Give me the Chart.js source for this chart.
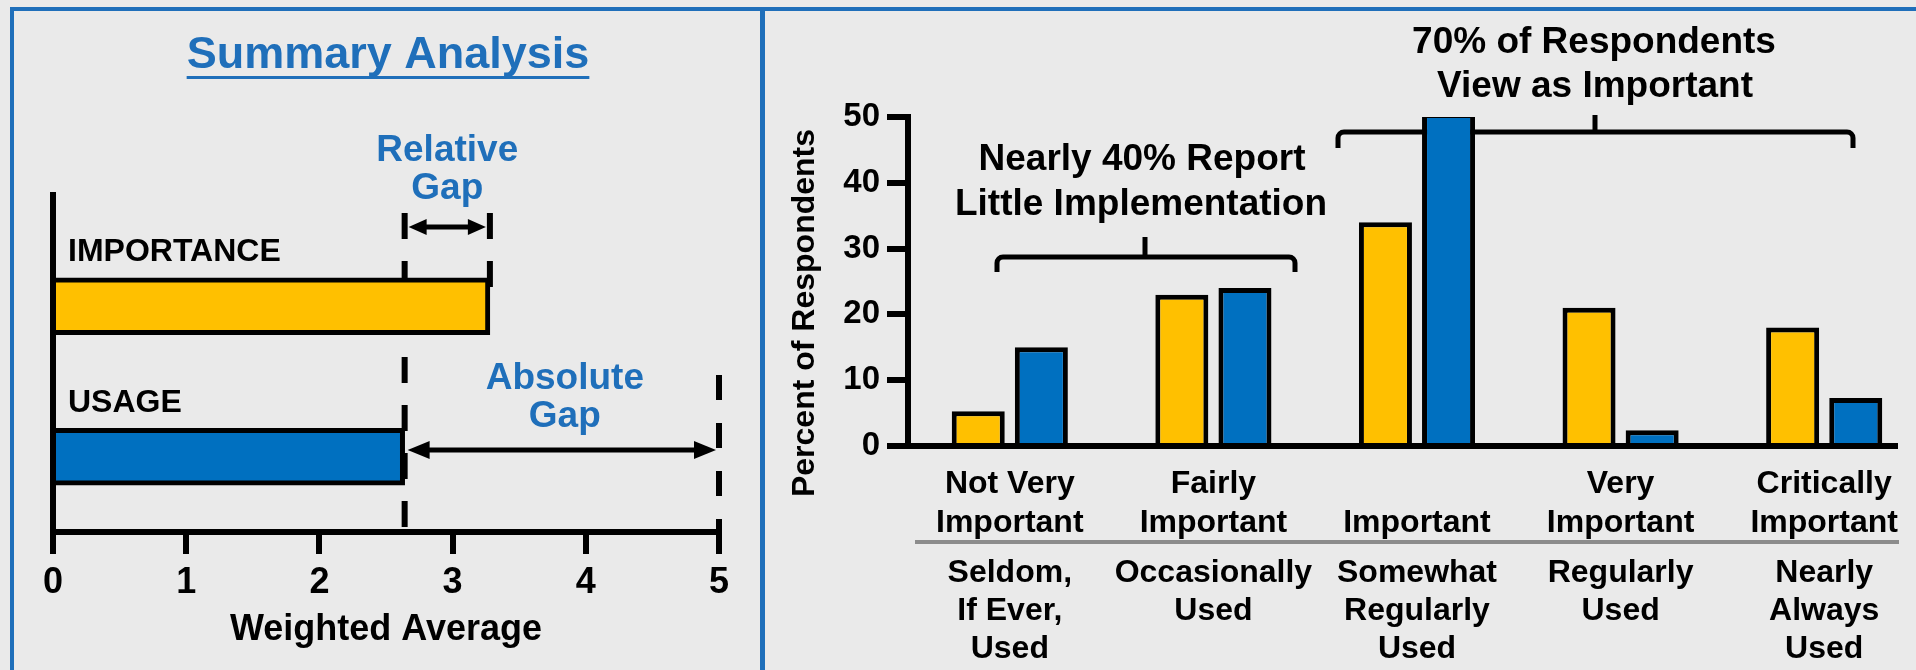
<!DOCTYPE html>
<html>
<head>
<meta charset="utf-8">
<script src="https://cdn.jsdelivr.net/npm/chart.js@4.4.0/dist/chart.umd.min.js"></script>
<style>
  html, body { margin: 0; padding: 0; width: 1916px; height: 670px; overflow: hidden; background: #eaeaea; }
  .frame { position: absolute; background: #1f6fba; }
  canvas { position: absolute; left: 0; top: 0; }
</style>
</head>
<body>
<div class="frame" style="left:10px; top:7px; width:1906px; height:4px"></div>
<div class="frame" style="left:10px; top:7px; width:4px; height:663px"></div>
<div class="frame" style="left:760px; top:7px; width:5px; height:663px"></div>
<canvas id="summaryChart" width="760" height="670"></canvas>
<canvas id="respChart" width="1930" height="670"></canvas>
<script>
// Summary (left) data
const summaryLabels = ['IMPORTANCE', 'USAGE'];
const summaryValues = [3.28, 2.64];
const summaryMax = 5;

// Respondents (right) data
const levelLabels = [['Not Very', 'Important'], ['Fairly', 'Important'], ['', 'Important'], ['Very', 'Important'], ['Critically', 'Important']];
const usageLabels = [['Seldom,', 'If Ever,', 'Used'], ['Occasionally', 'Used'], ['Somewhat', 'Regularly', 'Used'], ['Regularly', 'Used'], ['Nearly', 'Always', 'Used']];
const importanceValues = [5.3, 23, 34, 21, 18];
const usageValues = [15, 24, 50.6, 2.4, 7.3];

const YELLOW = '#FFC000';
const BLUE = '#0070C0';
const TEXT_BLUE = '#1f6fba';
const FONT = "'Liberation Sans', Arial, sans-serif";

Chart.defaults.font.family = FONT;
Chart.defaults.color = '#000';

function drawArrow(ctx, x1, x2, y, head, half) {
    ctx.save();
    ctx.setLineDash([]);
    ctx.strokeStyle = '#000';
    ctx.fillStyle = '#000';
    ctx.lineWidth = 5;
    ctx.beginPath();
    ctx.moveTo(x1 + head - 2, y);
    ctx.lineTo(x2 - head + 2, y);
    ctx.stroke();
    ctx.beginPath();
    ctx.moveTo(x1, y); ctx.lineTo(x1 + head, y - half); ctx.lineTo(x1 + head, y + half);
    ctx.closePath(); ctx.fill();
    ctx.beginPath();
    ctx.moveTo(x2, y); ctx.lineTo(x2 - head, y - half); ctx.lineTo(x2 - head, y + half);
    ctx.closePath(); ctx.fill();
    ctx.restore();
}

function drawBracket(ctx, x1, x2, y, hook, cx, notch) {
    ctx.save();
    ctx.strokeStyle = '#000';
    ctx.lineWidth = 5;
    ctx.lineJoin = 'round';
    ctx.beginPath();
    ctx.moveTo(x1, y + hook);
    ctx.arcTo(x1, y, x1 + 8, y, 6);
    ctx.lineTo(x2 - 8, y);
    ctx.arcTo(x2, y, x2, y + hook, 6);
    ctx.lineTo(x2, y + hook);
    ctx.stroke();
    ctx.beginPath();
    ctx.moveTo(cx, y);
    ctx.lineTo(cx, y - notch);
    ctx.stroke();
    ctx.restore();
}

function text(ctx, str, x, y, size, color, align) {
    ctx.font = `bold ${size}px ${FONT}`;
    ctx.fillStyle = color;
    ctx.textAlign = align || 'center';
    ctx.textBaseline = 'alphabetic';
    ctx.fillText(str, x, y);
}

// Left panel decorations: axis, gap lines, arrows and labels
const summaryDecor = {
    id: 'summaryDecor',
    beforeDatasetsDraw(chart) {
        const ctx = chart.ctx;
        const xs = chart.scales.x;
        const area = chart.chartArea;
        const zeroPx = xs.getPixelForValue(0);
        const impPx = xs.getPixelForValue(summaryValues[0]);
        const usePx = xs.getPixelForValue(summaryValues[1]);
        const maxPx = xs.getPixelForValue(summaryMax);
        ctx.save();
        ctx.strokeStyle = '#000';
        ctx.lineWidth = 6;
        ctx.beginPath();
        ctx.moveTo(zeroPx, 192);
        ctx.lineTo(zeroPx, area.bottom);
        ctx.stroke();

        ctx.setLineDash([26, 22]);
        ctx.beginPath();
        ctx.moveTo(usePx, 213);
        ctx.lineTo(usePx, area.bottom);
        ctx.moveTo(impPx, 213);
        ctx.lineTo(impPx, 290);
        ctx.stroke();
        ctx.setLineDash([25, 23]);
        ctx.beginPath();
        ctx.moveTo(maxPx, 375);
        ctx.lineTo(maxPx, 553);
        ctx.stroke();
        ctx.restore();
    },
    afterDatasetsDraw(chart) {
        const ctx = chart.ctx;
        const xs = chart.scales.x;
        const ys = chart.scales.y;
        const impPx = xs.getPixelForValue(summaryValues[0]);
        const usePx = xs.getPixelForValue(summaryValues[1]);
        const maxPx = xs.getPixelForValue(summaryMax);
        ctx.save();

        drawArrow(ctx, usePx + 4, impPx - 4, 227, 18, 8);
        drawArrow(ctx, usePx + 3, maxPx - 3, 450, 22, 9);

        summaryLabels.forEach((lbl, i) => {
            text(ctx, lbl, 68, ys.getPixelForValue(i) - 45, 32, '#000', 'left');
        });

        const relX = (usePx + impPx) / 2;
        text(ctx, 'Relative', relX, 161, 37, TEXT_BLUE);
        text(ctx, 'Gap', relX, 199, 37, TEXT_BLUE);
        const absX = (usePx + maxPx) / 2 + 3;
        text(ctx, 'Absolute', absX, 389, 37, TEXT_BLUE);
        text(ctx, 'Gap', absX, 427, 37, TEXT_BLUE);

        // Title with underline
        text(ctx, 'Summary Analysis', 388, 68, 45, TEXT_BLUE);
        const w = ctx.measureText('Summary Analysis').width;
        ctx.fillStyle = TEXT_BLUE;
        ctx.fillRect(388 - w / 2, 76, w, 3);
        ctx.restore();
    }
};

new Chart(document.getElementById('summaryChart').getContext('2d'), {
    type: 'bar',
    data: {
        labels: summaryLabels,
        datasets: [{
            data: summaryValues,
            backgroundColor: [YELLOW, BLUE],
            borderColor: '#000',
            borderWidth: 5,
            barThickness: 57
        }]
    },
    options: {
        indexAxis: 'y',
        responsive: false,
        animation: false,
        layout: { padding: { left: 53, right: 41, top: 231, bottom: 0 } },
        plugins: { legend: { display: false }, tooltip: { enabled: false } },
        scales: {
            x: {
                type: 'linear',
                min: 0,
                max: summaryMax,
                afterFit: (scale) => { scale.height = 138; },
                ticks: { stepSize: 1, padding: 7, color: '#000', font: { size: 36, weight: 'bold' } },
                grid: { drawOnChartArea: false, drawTicks: true, tickLength: 22, lineWidth: 6, color: '#000' },
                border: { display: true, width: 6, color: '#000' },
                title: {
                    display: true,
                    text: 'Weighted Average',
                    color: '#000',
                    font: { size: 36, weight: 'bold' },
                    padding: { top: 0, bottom: 18 }
                }
            },
            y: { type: 'category', display: false, offset: true }
        }
    },
    plugins: [summaryDecor]
});

// Right panel decorations
const respDecor = {
    id: 'respDecor',
    beforeDatasetsDraw(chart) {
        const ctx = chart.ctx;
        drawBracket(ctx, 997, 1295, 257, 15, 1145, 20);
        drawBracket(ctx, 1338, 1853, 132, 16, 1595, 17);
    },
    afterDatasetsDraw(chart) {
        const ctx = chart.ctx;
        const xs = chart.scales.x;
        const ys = chart.scales.y;
        const zeroY = ys.getPixelForValue(0);
        ctx.save();
        ctx.fillStyle = '#000';
        ctx.fillRect(888, zeroY - 3, 1898 - 888, 6);

        ctx.fillStyle = '#8c8c8c';
        ctx.fillRect(915, 540, 1899 - 915, 4);

        usageLabels.forEach((lines, i) => {
            const x = xs.getPixelForValue(i);
            lines.forEach((ln, k) => text(ctx, ln, x, 582 + k * 38, 32, '#000'));
        });

        text(ctx, 'Nearly 40% Report', 1142, 170, 37, '#000');
        text(ctx, 'Little Implementation', 1141, 215, 37, '#000');
        text(ctx, '70% of Respondents', 1594, 53, 37, '#000');
        text(ctx, 'View as Important', 1595, 97, 37, '#000');

        ctx.translate(805, 313);
        ctx.rotate(-Math.PI / 2);
        ctx.font = `bold 32px ${FONT}`;
        ctx.fillStyle = '#000';
        ctx.textAlign = 'center';
        ctx.textBaseline = 'middle';
        ctx.fillText('Percent of Respondents', 0, 0);
        ctx.restore();
    }
};

new Chart(document.getElementById('respChart').getContext('2d'), {
    type: 'bar',
    data: {
        labels: levelLabels,
        datasets: [{
            label: 'Importance',
            data: importanceValues,
            backgroundColor: YELLOW,
            borderColor: '#000',
            borderWidth: 5,
            categoryPercentage: 0.62,
            barPercentage: 0.84
        }, {
            label: 'Usage',
            data: usageValues,
            backgroundColor: BLUE,
            borderColor: '#000',
            borderWidth: 5,
            categoryPercentage: 0.62,
            barPercentage: 0.84
        }]
    },
    options: {
        responsive: false,
        animation: false,
        layout: { padding: { left: 0, right: 4, top: 117, bottom: 0 } },
        plugins: { legend: { display: false }, tooltip: { enabled: false } },
        scales: {
            x: {
                type: 'category',
                offset: true,
                afterFit: (scale) => { scale.height = 224; },
                ticks: {
                    autoSkip: false,
                    maxRotation: 0,
                    padding: 11,
                    color: '#000',
                    font: { size: 32, weight: 'bold', lineHeight: 1.22 }
                },
                grid: { display: false },
                border: { display: false }
            },
            y: {
                min: 0,
                max: 50,
                afterFit: (scale) => { scale.width = 908; },
                ticks: { stepSize: 10, padding: 7, color: '#000', font: { size: 33, weight: 'bold' } },
                grid: { drawOnChartArea: false, drawTicks: true, tickLength: 21, lineWidth: 6, color: '#000' },
                border: { display: true, width: 6, color: '#000' }
            }
        }
    },
    plugins: [respDecor]
});
</script>
</body>
</html>
